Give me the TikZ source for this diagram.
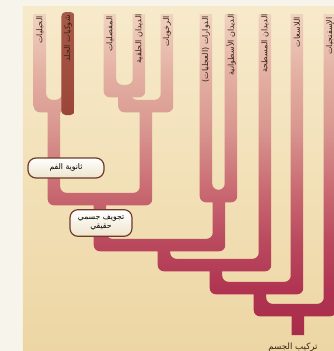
\documentclass[tikz,border=0pt]{standalone}
\usepackage{fontspec}
\newfontfamily\arabicfont[Script=Arabic]{DejaVu Sans}
\TeXXeTstate=1

\definecolor{pageWhite}{HTML}{F7F4EC}
\definecolor{panelTop}{HTML}{F7EACB}
\definecolor{panelBot}{HTML}{EDD6A4}
\definecolor{t1}{HTML}{F4DEC6}
\definecolor{t2}{HTML}{EFCFBC}
\definecolor{t3}{HTML}{E4B2A4}
\definecolor{t4}{HTML}{D8968F}
\definecolor{t5}{HTML}{C96A72}
\definecolor{t6}{HTML}{BA4A5E}
\definecolor{t7}{HTML}{B03452}
\definecolor{t8}{HTML}{A52A48}
\definecolor{barTop}{HTML}{A85A48}
\definecolor{barMid}{HTML}{86382A}
\definecolor{barBot}{HTML}{9A4538}
\definecolor{inkBrown}{HTML}{3A2218}
\definecolor{pillEdge}{HTML}{6E3A2A}
\definecolor{pillBot}{HTML}{EFE4CC}

% colour of the branches, from the root (bottom) up to the tips (top)
\pgfdeclareverticalshading{treegrad}{100bp}{color(0bp)=(t8); color(25bp)=(t8);
  color(33.69bp)=(t7); color(40.81bp)=(t6); color(47.93bp)=(t5);
  color(56.48bp)=(t4); color(65.03bp)=(t3); color(72.15bp)=(t2);
  color(75bp)=(t1); color(100bp)=(t1)}

\tikzset{
  % outline of one U-shaped fork: left arm / right arm / left top / right top / bottom
  upiece/.style args={#1/#2/#3/#4/#5}{insert path={
    (#1-6.25,#3) -- (#1-6.25,#5+6.25) -- (#2+6.25,#5+6.25) -- (#2+6.25,#4)
    -- (#2-6.25,#4) -- (#2-6.25,#5-6.25) -- (#1+6.25,#5-6.25) -- (#1+6.25,#3)
    -- cycle}},
  % square top end of a branch tip
  tipend/.style={insert path={
    (#1-6.25,14) -- (#1-6.25,30) -- (#1+6.25,30) -- (#1+6.25,14) -- cycle}},
  taxon/.style={font=\arabicfont\fontsize{6}{7}\selectfont, text=inkBrown,
    rotate=90, anchor=east, inner sep=0pt},
  pill/.style={draw=pillEdge, line width=0.9pt, rounded corners=6pt,
    top color=white, bottom color=pillBot, text=black, align=center,
    font=\arabicfont\fontsize{5.8}{7}\selectfont, inner sep=1pt},
}

\begin{document}
\begin{tikzpicture}[x=0.75pt, y=-0.75pt]
  \useasboundingbox (0,0) rectangle (334,351);
  \clip (0,0) rectangle (334,351);

  % page and panel
  \fill[pageWhite] (0,0) rectangle (334,351);
  \shade[top color=panelTop, bottom color=panelBot] (23,6) rectangle (334,351);

  % branches: union of the forks, filled with one vertical gradient
  \begin{scope}
    \clip[rounded corners=4.5pt,
      upiece=40/68/14/14/106,
      upiece=110/139/14/14/91,
      upiece=124.5/167/86/14/106,
      upiece=54/146/101/101/199,
      upiece=206/231/14/14/196,
      upiece=100/219/194/191/245,
      upiece=164/265/240/14/265,
      upiece=216/297/260/14/288,
      upiece=260/330/283/14/310]
      [sharp corners]
      [tipend=40, tipend=68, tipend=110, tipend=139, tipend=167,
       tipend=206, tipend=231, tipend=265, tipend=297, tipend=330]
      (291.75,305) -- (291.75,335) -- (304.25,335) -- (304.25,305) -- cycle;
    \shade[shading=treegrad] (0,0) rectangle (334,351);
  \end{scope}

  % dark tip of the second taxon
  \shade[top color=barTop, middle color=barMid, bottom color=barBot,
    rounded corners=3pt] (61.5,12) rectangle (74.5,115);

  % taxon names
  \node[taxon] (n1)  at (40,16)  {\beginR الحبليات\endR};
  \node[taxon] (n2)  at (68,15)  {\beginR شوكيات الجلد\endR};
  \node[taxon] (n3)  at (110,16) {\beginR المفصليات\endR};
  \node[taxon] (n4)  at (139,14) {\beginR الديدان الحلقية\endR};
  \node[taxon] (n5)  at (167,16) {\beginR الرخويات\endR};
  \node[taxon] (n6)  at (206,16) {\beginR الدوارات (العجليات)\endR};
  \node[taxon] (n7)  at (231,14) {\beginR الديدان الأسطوانية\endR};
  \node[taxon] (n8)  at (265,14) {\beginR الديدان المسطحة\endR};
  \node[taxon] (n9)  at (297,17) {\beginR اللاسعات\endR};
  \node[taxon] (n10) at (330,17) {\beginR الإسفنجيات\endR};

  % character labels on the branches
  \node[pill, minimum width=57pt, minimum height=15pt] (deut) at (66,168)
    {\beginR ثانوية الفم\endR};
  \node[pill, minimum width=46.5pt, minimum height=20pt] (coel) at (101,223)
    {{\beginR تجويف جسمي\endR}\\{\beginR حقيقي\endR}};

  % root caption
  \node[font=\arabicfont\fontsize{6.5}{7}\selectfont, text=inkBrown,
    anchor=base west, inner sep=0pt] (root) at (268,349)
    {\beginR تركيب الجسم\endR};
\end{tikzpicture}
\end{document}
